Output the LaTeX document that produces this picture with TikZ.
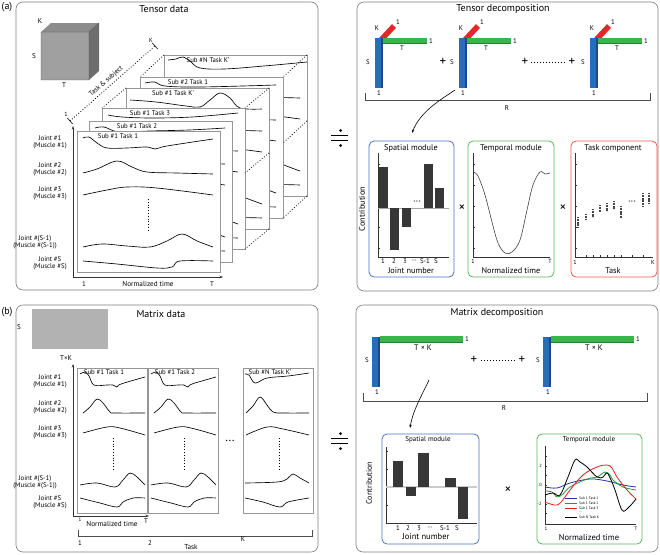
\documentclass[tikz,border=0pt]{standalone}
\usepackage{fontspec}
\setmainfont{PT Sans}
\usetikzlibrary{arrows.meta}
\definecolor{barblue}{RGB}{38,110,185}
\definecolor{barbluedk}{RGB}{25,75,135}
\definecolor{bargreen}{RGB}{57,181,74}
\definecolor{bargreendk}{RGB}{35,130,50}
\definecolor{barred}{RGB}{231,38,42}
\definecolor{modblue}{RGB}{74,114,196}
\definecolor{modgreen}{RGB}{93,182,93}
\definecolor{modred}{RGB}{238,90,74}
\definecolor{bardark}{RGB}{55,55,55}
\definecolor{framegray}{RGB}{150,150,150}
\definecolor{panelgray}{RGB}{125,125,125}
\definecolor{cubefront}{RGB}{160,160,160}
\definecolor{cubetop}{RGB}{140,140,140}
\definecolor{cubeside}{RGB}{110,110,110}
\definecolor{cblue}{RGB}{45,45,165}
\definecolor{cgreen}{RGB}{40,150,60}
\definecolor{cred}{RGB}{235,30,30}
\newcommand\myfs[1]{\fontsize{#1}{#1}\selectfont}
\tikzset{
 panel/.style={draw=panelgray, line width=0.6pt, rounded corners=7pt},
 frm/.style={draw=framegray, fill=white, line width=0.6pt},
 trc/.style={line width=0.65pt, line join=round},
 dotl/.style={dotted, line width=0.8pt},
 lbl/.style={inner sep=0pt, align=center, font=\myfs{6.8}},
 ttl/.style={inner sep=0pt, font=\myfs{10}},
 ftl/.style={inner sep=0pt, font=\myfs{6.8}},
 mtl/.style={inner sep=0pt, font=\myfs{8.3}},
 mod/.style={line width=0.8pt, rounded corners=5pt},
 ax/.style={line width=0.5pt, draw=black!80},
 arr/.style={-{Stealth[length=3.5pt,width=2.5pt]}},
 sm/.style={smooth, tension=0.6},
}
% frame of the tensor stack
\newcommand\aframe[6]{%
\begin{scope}[shift={(#2,#3)}]
\draw[frm] (0,0) rectangle (143,141);
\node[ftl] (ft#1) at (#6,5) {#4};
\draw[trc] plot[sm] coordinates {#5};
\draw[trc] plot[sm] coordinates {(6,42) (20,38) (40,30) (55,36) (70,41) (100,42) (136,43)};
\draw[trc] plot[sm] coordinates {(6,64) (30,59) (50,56) (80,57) (136,64)};
\draw[dotl] (71,68) -- (71,100);
\draw[trc] plot[sm] coordinates {(6,116) (25,113) (50,115) (73,116) (90,110) (105,103) (120,110) (136,116)};
\draw[trc] plot[sm] coordinates {(6,130) (40,133) (80,137) (95,136) (103,130) (136,130)};
\end{scope}}
\newcommand\btrA{%
\draw[trc] plot[sm] coordinates {(3,6) (8,4) (12,8) (17,17) (30,17) (36,17) (40,19) (44,16) (68,9)};
\draw[trc] plot[sm] coordinates {(6,45) (13,39) (20,31) (26,35) (33,44) (38,45) (68,45)};
\draw[trc] plot[sm] coordinates {(6,65) (30,59) (43,60) (68,67)};
\draw[trc] plot[sm] coordinates {(3,117) (20,115) (38,119) (46,112) (53,105) (60,109) (68,117)};
\draw[trc] plot[sm] coordinates {(3,130) (23,135) (40,139) (46,134) (56,130) (68,130)};}
\newcommand\btrB{%
\draw[trc] plot[sm] coordinates {(2,6) (6,7) (12,15) (24,10) (45,8) (66,5)};
\draw[trc] plot[sm] coordinates {(3,45) (10,38) (17,29) (24,37) (30,44) (40,45) (66,45)};
\draw[trc] plot[sm] coordinates {(3,67) (24,59) (40,61) (66,67)};
\draw[trc] plot[sm] coordinates {(2,115) (34,114) (44,111) (50,106) (57,110) (66,115)};
\draw[trc] plot[sm] coordinates {(2,130) (20,134) (37,139) (45,134) (66,130)};}
\newcommand\bframe[4]{%
\begin{scope}[shift={(#2,368)}]
\draw[frm] (0,0) rectangle (70,145);
\node[ftl] (bt#1) at (27,4.5) {#3};
#4
\draw[dotl] (36,70) -- (36,102);
\end{scope}}
\newcommand\tcomp[2]{%
\begin{scope}[shift={(#2,38)}]
\draw[line width=5.5pt, barred] (5,3) -- (19,-12);
\fill[barblue] (0,0) rectangle (8,50);
\fill[barbluedk] (6,0) rectangle (8,50);
\fill[bargreen] (8,0) rectangle (52,6);
\fill[bargreendk] (8,4.6) rectangle (52,6);
\node[lbl] (k#1) at (2,-10) {K};
\node[lbl] (ra#1) at (23,-16) {1};
\node[lbl] (ga#1) at (56,3) {1};
\node[lbl] (t#1) at (27,10) {T};
\node[lbl] (s#1) at (-7,24) {S};
\node[lbl] (ba#1) at (4,55) {1};
\end{scope}}
\newcommand\mcomp[2]{%
\begin{scope}[shift={(#2,337)}]
\fill[barblue] (0,0) rectangle (8,50);
\fill[barbluedk] (6,0) rectangle (8,50);
\fill[bargreen] (8,-1) rectangle (91,6);
\fill[bargreendk] (8,4.6) rectangle (91,6);
\node[lbl] (mg#1) at (95,2) {1};
\node[lbl, font=\myfs{8}] (mt#1) at (51,11) {T × K};
\node[lbl] (ms#1) at (-5,23) {S};
\node[lbl] (mb#1) at (5,55) {1};
\end{scope}}
\begin{document}
\begin{tikzpicture}[x=1pt,y=-1pt]
\useasboundingbox (0,0) rectangle (660,554);
% ---------- panels
\draw[panel] (16,2) rectangle (318,290);
\draw[panel] (357,2) rectangle (658,291);
\draw[panel] (16,305) rectangle (318,552);
\draw[panel] (356,305) rectangle (658,552);
\node[inner sep=0pt, font=\myfs{10}] (la) at (7,7) {(a)};
\node[inner sep=0pt, font=\myfs{10}] (lb) at (7,312) {(b)};
\node[ttl] (t1) at (164,9) {Tensor data};
\node[ttl] (t2) at (503,9) {Tensor decomposition};
\node[ttl] (t3) at (161,314) {Matrix data};
\node[ttl] (t4) at (497,313) {Matrix decomposition};
% ---------- cube
\fill[cubefront] (41,32) rectangle (89,80);
\fill[cubetop] (41,32) -- (51,23) -- (99,23) -- (89,32) -- cycle;
\fill[cubeside] (89,32) -- (99,23) -- (99,71) -- (89,80) -- cycle;
\draw[cubeside!70!black, line width=0.3pt] (41,32) rectangle (89,80) (89,32) -- (99,23);
\node[lbl, font=\myfs{7}] (ck) at (40,21) {K};
\node[lbl, font=\myfs{7}] (cs) at (34,56) {S};
\node[lbl, font=\myfs{7}] (ct) at (64,85) {T};
% ---------- task & subject axis
\coordinate (ts0) at (70,121);
\coordinate (ts1) at (155,46);
\draw[dotl] (ts0) -- (ts1);
\draw[line width=0.6pt] (67.4,118) -- (72.6,124);
\draw[line width=0.6pt] (152.4,43) -- (157.6,49);
\path (ts0) -- (ts1) node[pos=0.47, sloped, above=2.5pt, inner sep=0pt, font=\myfs{6.8}] (tsl) {Task \& subject};
\node[lbl, font=\myfs{6}] (ts1l) at (66,114) {1};
\node[lbl, font=\myfs{6}] (tsKl) at (151,40) {K};
% ---------- tensor frames (back to front)
\aframe{6}{164}{55}{Sub \#N Task K'}{(4,5) (12,4) (19,2) (27,7) (36,13) (60,14) (100,11) (143,7)}{44}
\aframe{5}{140}{77}{Sub \#2 Task 1}{(5,6) (15,5) (25,9) (60,10) (136,8)}{48}
\aframe{4}{126}{88}{Sub \#1 Task K'}{(4,12) (30,14) (60,18) (74,19) (84,12) (94,5) (104,10) (114,20) (136,21)}{47}
\aframe{3}{102}{108}{Sub \#1 Task 3}{(6,7) (20,9) (50,10) (90,9) (136,5)}{48}
\aframe{2}{89}{121}{Sub \#1 Task 2}{(6,7) (15,6) (30,11) (60,10) (100,9) (136,7)}{48}
\aframe{1}{77}{131}{Sub \#1 Task 1}{(6,7) (12,6) (20,12) (30,17) (50,17) (70,16) (78,18) (90,15) (136,8)}{41}
% dotted perspective lines
\draw[dotl] (164,55) -- (140,77);
\draw[dotl] (307,55) -- (283,77);
\draw[dotl] (307,121) -- (283,143);
\draw[dotl] (307,196) -- (283,218);
\draw[dotl] (126,88) -- (102,108);
\draw[dotl] (269,88) -- (245,108);
\draw[dotl] (269,153) -- (245,173);
\draw[dotl] (269,229) -- (245,249);
% axes of the front frame
\coordinate (ao) at (73,277);
\draw[ax, arr] (ao) -- (73,126);
\draw[ax, arr] (ao) -- (223,277);
\node[lbl] (ax1) at (84,284) {1};
\node[lbl, font=\myfs{7.2}] (axn) at (148,284) {Normalized time};
\node[lbl] (axT) at (212,284) {T};
% joint labels (a)
\node[lbl] (ja1) at (50,142) {Joint \#1\\(Muscle \#1)};
\node[lbl] (ja2) at (50,169) {Joint \#2\\(Muscle \#2)};
\node[lbl] (ja3) at (50,193.5) {Joint \#3\\(Muscle \#3)};
\node[lbl] (ja4) at (35,242.5) {Joint \#(S-1)\\(Muscle \#(S-1))};
\node[lbl] (ja5) at (50,263.5) {Joint \#S\\(Muscle \#S)};
% ---------- equal signs
\draw[line width=0.9pt] (331,135.5) -- (348,135.5) (331,140) -- (348,140);
\fill (340.5,130.5) circle (1.5) (340.5,145.5) circle (1.5);
\draw[line width=0.9pt] (331,438.5) -- (348,438.5) (331,443) -- (348,443);
\fill (340.5,433.5) circle (1.5) (340.5,448.5) circle (1.5);
% ---------- tensor decomposition
\tcomp{1}{375}
\tcomp{2}{459}
\tcomp{3}{590}
\node[inner sep=0pt, font=\myfs{13}] (p1) at (443,62) {+};
\node[inner sep=0pt, font=\myfs{13}] (p2) at (525,62) {+};
\node[inner sep=0pt, font=\myfs{13}] (p3) at (572,62) {+};
\draw[dotl, line width=1pt] (531,62.5) -- (566,62.5);
\draw[line width=0.5pt, black!70] (365,93) -- (365,100) -- (650,100) -- (650,93);
\node[lbl, font=\myfs{7}] (R1) at (507,108) {R};
\coordinate (arA0) at (455,90);
\coordinate (arA1) at (412,133);
\draw[line width=0.6pt, arr] (arA0) .. controls (440,100) and (420,112) .. (arA1);
% spatial module (a)
\draw[mod, modblue] (369,141) rectangle (454,277);
\node[mtl] (sma) at (411,148) {Spatial module};
\draw[ax] (378,153) -- (378,257) -- (449,257);
\foreach \yy in {164,185,206,227,248} \draw[ax] (378,\yy) -- (380,\yy);
\draw[gray!70, line width=0.6pt] (378,208) -- (449,208);
\fill[bardark] (379,167) rectangle (388,208);
\fill[bardark] (390,208) rectangle (399,250);
\fill[bardark] (402,208) rectangle (411,227);
\fill[bardark] (424,164) rectangle (433,208);
\fill[bardark] (435,188) rectangle (444,208);
\node[lbl, font=\myfs{10}] (sdots) at (417,203) {···};
\node[lbl] (sx1) at (383,261.5) {1};
\node[lbl] (sx2) at (394,261.5) {2};
\node[lbl] (sx3) at (405,261.5) {3};
\node[lbl] (sx4) at (414,261.5) {···};
\node[lbl] (sx5) at (425,261.5) {S-1};
\node[lbl] (sx6) at (436,261.5) {S};
\node[mtl] (sjn) at (411,271) {Joint number};
\node[mtl, rotate=90] (scon) at (362,209) {Contribution};
\node[inner sep=0pt, font=\myfs{13}] (x1) at (462,208) {×};
% temporal module (a)
\draw[mod, modgreen] (468,141) rectangle (554,277);
\node[mtl] (tma) at (511,148) {Temporal module};
\draw[ax] (473,153) -- (473,257) -- (550,257);
\foreach \yy in {164,185,206,227,248} \draw[ax] (473,\yy) -- (475,\yy);
\draw[line width=0.6pt, black!75] plot[sm] coordinates {(473,172) (478,176) (485,195) (492,222) (498,243) (505,253) (512,252) (520,240) (527,210) (533,185) (540,172) (545,174) (550,173)};
\node[lbl, font=\myfs{6}] (tx1) at (473,261.5) {1};
\node[lbl, font=\myfs{6}] (txT) at (550,261.5) {T};
\node[mtl] (tnt) at (511,271) {Normalized time};
\node[inner sep=0pt, font=\myfs{13}] (x2) at (563,208) {×};
% task component
\draw[mod, modred] (571,141) rectangle (657,277);
\node[mtl] (tca) at (613,148) {Task component};
\draw[ax] (575,153) -- (575,257) -- (653,257);
\foreach \yy in {164,185,206,227,248} \draw[ax] (575,\yy) -- (577,\yy);
\foreach \xx in {586,593,600,607,614,621,632,643} \draw[ax] (\xx,257) -- (\xx,255);
\begin{scope}[line width=2.3pt, gray!55!black, dash pattern=on 1.2pt off 0.4pt]
\draw (578,217) -- (578,227);
\draw (586,214) -- (586,220);
\draw (593,209) -- (593,217);
\draw (600,205) -- (600,212);
\draw (607,203) -- (607,211);
\draw (614,201) -- (614,209);
\draw (621,206) -- (621,218);
\draw (643,193) -- (643,207);
\draw (649,193) -- (649,204);
\end{scope}
\node[lbl, font=\myfs{10}] (tcd) at (632,203) {···};
\node[lbl, font=\myfs{6}] (tc1) at (575,262) {1};
\node[lbl, font=\myfs{6}] (tcK) at (653,262) {K};
\node[mtl] (tct) at (613,271) {Task};
% ---------- matrix data
\fill[gray!60] (32,309) rectangle (108,349);
\node[lbl, font=\myfs{7}] (mS) at (19,327) {S};
\node[lbl, font=\myfs{7}] (mTK) at (66,358) {T×K};
\bframe{1}{77}{Sub \#1 Task 1}{\btrA}
\bframe{2}{148}{Sub \#1 Task 2}{\btrA}
\bframe{3}{243}{Sub \#N Task K'}{\btrB}
\node[inner sep=0pt, font=\myfs{12}] (mdots) at (230,442) {···};
\coordinate (bo) at (73,516);
\draw[ax, arr] (bo) -- (73,364);
\draw[ax, arr] (bo) -- (149,516);
\node[lbl, font=\myfs{5}] (bx1) at (80,520) {1};
\node[lbl, font=\myfs{7.2}] (bxn) at (112,524) {Normalized time};
\node[lbl] (bxT) at (146,521) {T};
\draw[line width=0.5pt, black!70] (78,530) -- (78,536) -- (312,536) -- (312,530);
\node[lbl] (bk1) at (80,543) {1};
\node[lbl] (bk2) at (150,543) {2};
\node[lbl] (bkK) at (243,539) {K};
\node[lbl, font=\myfs{7.2}] (bkt) at (191,547) {Task};
\node[lbl] (jb1) at (50,381) {Joint \#1\\(Muscle \#1)};
\node[lbl] (jb2) at (50,407.5) {Joint \#2\\(Muscle \#2)};
\node[lbl] (jb3) at (50,432) {Joint \#3\\(Muscle \#3)};
\node[lbl] (jb4) at (35,482.5) {Joint \#(S-1)\\(Muscle \#(S-1))};
\node[lbl] (jb5) at (50,502.5) {Joint \#S\\(Muscle \#S)};
% ---------- matrix decomposition
\mcomp{1}{372}
\mcomp{2}{543}
\node[inner sep=0pt, font=\myfs{13}] (q1) at (474,360) {+};
\node[inner sep=0pt, font=\myfs{13}] (q2) at (522,360) {+};
\draw[dotl, line width=1pt] (481,360.5) -- (515,360.5);
\draw[line width=0.5pt, black!70] (363,393) -- (363,401) -- (647,401) -- (647,393);
\node[lbl, font=\myfs{7}] (R2) at (504,408) {R};
\coordinate (arB0) at (429,380);
\coordinate (arB1) at (410,428);
\draw[line width=0.6pt, arr] (arB0) .. controls (422,395) and (413,410) .. (arB1);
% spatial module (b)
\draw[mod, modblue] (382,434) rectangle (479,544);
\node[inner sep=0pt, font=\myfs{7}] (smb) at (428,440) {Spatial module};
\draw[ax] (386,447) -- (386,523) -- (477,523);
\foreach \yy in {451,469,487,505} \draw[ax] (386,\yy) -- (388,\yy);
\draw[gray!40, line width=1.3pt] (386,487) -- (477,487);
\fill[bardark] (393,461) rectangle (403,487);
\fill[bardark] (406,487) rectangle (416,496);
\fill[bardark] (418,453) rectangle (429,487);
\fill[bardark] (445,478) rectangle (456,487);
\fill[bardark] (458,487) rectangle (468,519);
\node[lbl] (sy1) at (398,528) {1};
\node[lbl] (sy2) at (408,528) {2};
\node[lbl] (sy3) at (419,528) {3};
\node[lbl] (sy4) at (430,528) {···};
\node[lbl] (sy5) at (445,528) {S-1};
\node[lbl] (sy6) at (457,528) {S};
\node[inner sep=0pt, font=\myfs{8.5}] (sjb) at (426,537) {Joint number};
\node[inner sep=0pt, font=\myfs{8}, rotate=90] (sconb) at (369,483) {Contribution};
\node[inner sep=0pt, font=\myfs{13}] (x3) at (508,490) {×};
% temporal module (b)
\draw[mod, modgreen] (537,434) rectangle (642,544);
\node[inner sep=0pt, font=\myfs{7}] (tmb) at (589,440) {Temporal module};
\draw[ax] (545,446) -- (545,524) -- (636,524);
\foreach \yy in {456,466,475,485,494,504,513} \draw[ax] (545,\yy) -- (546.5,\yy);
\node[inner sep=0pt, font=\myfs{4.5}] (ty2) at (540.5,466) {2};
\node[inner sep=0pt, font=\myfs{4.5}] (ty0) at (540.5,485) {0};
\node[inner sep=0pt, font=\myfs{4.5}] (tym) at (539.5,504) {-2};
\draw[cblue, line width=0.8pt] plot[sm] coordinates {(545,487) (557,488) (570,483) (590,479) (607,481) (623,485) (636,487)};
\draw[cgreen, line width=0.8pt] plot[sm] coordinates {(545,491) (552,492) (557,497) (563,494) (570,487) (587,479) (597,477) (605,472) (610,475) (613,480) (623,487) (636,490)};
\draw[cred, line width=0.8pt] plot[sm] coordinates {(545,502) (557,505) (565,497) (570,490) (583,475) (597,467) (607,465) (612,468) (617,477) (627,490) (636,499)};
\draw[black, line width=0.8pt] plot[sm] coordinates {(545,495) (553,493) (560,495) (568,477) (575,460) (580,462) (587,467) (597,477) (603,477) (607,473) (611,480) (615,490) (622,510) (628,508) (636,499)};
\draw[cblue, line width=0.9pt] (565,498) -- (577,498);
\draw[cgreen, line width=0.9pt] (565,503) -- (577,503);
\draw[cred, line width=0.9pt] (565,508) -- (577,508);
\draw[black, line width=0.9pt] (565,517) -- (577,517);
\node[inner sep=0pt, anchor=west, font=\myfs{3.6}] (lg1) at (579,498) {Sub 1 Task 1};
\node[inner sep=0pt, anchor=west, font=\myfs{3.6}] (lg2) at (579,503) {Sub 1 Task 2};
\node[inner sep=0pt, anchor=west, font=\myfs{3.6}] (lg3) at (579,508) {Sub 1 Task 3};
\node[inner sep=0pt, anchor=west, font=\myfs{3.6}] (lg4) at (579,512) {...};
\node[inner sep=0pt, anchor=west, font=\myfs{3.6}] (lg5) at (579,517) {Sub N Task K};
\node[inner sep=0pt, font=\myfs{5}] (tb1) at (546,529) {1};
\node[inner sep=0pt, font=\myfs{5}] (tbT) at (636,529) {T};
\node[inner sep=0pt, font=\myfs{8.5}] (tbn) at (589,537.5) {Normalized time};
\end{tikzpicture}
\end{document}
